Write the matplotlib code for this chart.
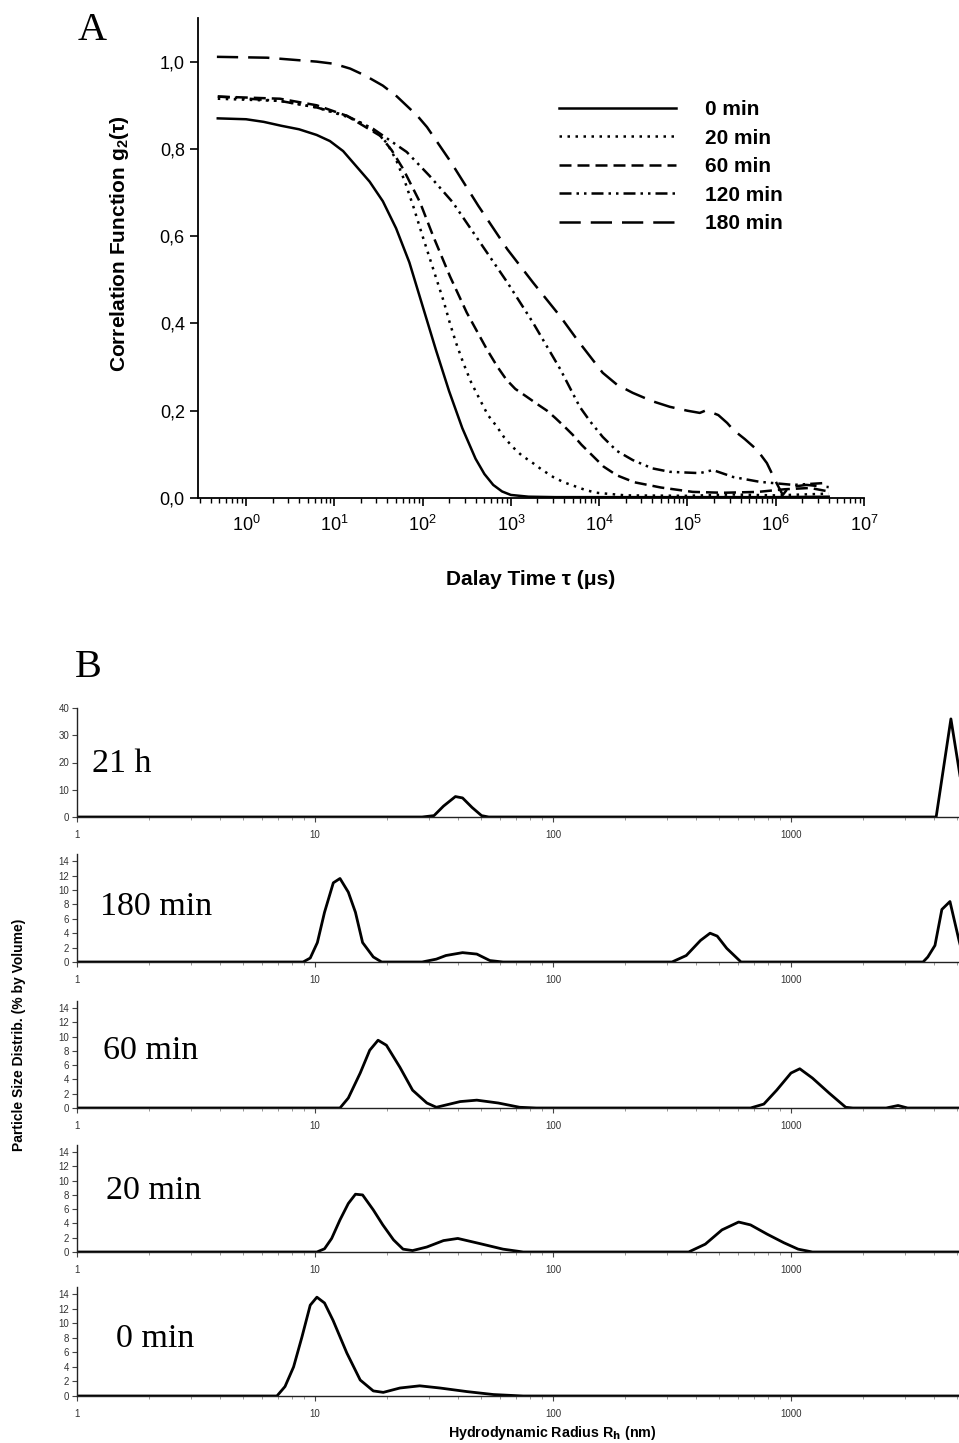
import matplotlib
matplotlib.use("Agg")
import matplotlib.pyplot as plt
import matplotlib.ticker as mticker
import numpy as np

plt.rcParams['font.family'] = ['Liberation Sans', 'DejaVu Sans']
plt.rcParams['mathtext.default'] = 'regular'

# ---- panel A: correlation functions (log10 of delay time in us, g2) ----
series_a = ["0 min", "20 min", "60 min", "120 min", "180 min"]

logt_0 = [-0.32, 0, 0.2, 0.4, 0.6, 0.8, 0.95, 1.1, 1.25, 1.4, 1.55, 1.7, 1.85, 2.0, 2.15, 2.3, 2.45,
          2.6, 2.7, 2.8, 2.9, 3.0, 3.2, 3.5, 4, 5, 6, 6.6]
g2_0 = [0.870, 0.868, 0.862, 0.853, 0.845, 0.832, 0.818, 0.795, 0.76, 0.725, 0.68, 0.618, 0.54, 0.44,
        0.34, 0.245, 0.16, 0.09, 0.055, 0.03, 0.015, 0.007, 0.003, 0.002, 0.002, 0.002, 0.002, 0.003]

logt_20 = [-0.32, 0.385, 0.8, 1.14, 1.3, 1.4, 1.5, 1.6, 1.7, 1.8, 1.9, 2.0, 2.08, 2.16, 2.24, 2.31,
           2.38, 2.46, 2.55, 2.65, 2.74, 2.84, 2.92, 3.02, 3.12, 3.25, 3.35, 3.48, 3.6, 3.78, 3.85,
           3.97, 4.3, 5.0, 5.5, 6.0, 6.6]
g2_20 = [0.915, 0.91, 0.895, 0.874, 0.86, 0.848, 0.835, 0.812, 0.775, 0.725, 0.665, 0.60, 0.55, 0.50,
         0.45, 0.40, 0.355, 0.31, 0.265, 0.225, 0.19, 0.164, 0.14, 0.117, 0.098, 0.08, 0.065, 0.048,
         0.036, 0.023, 0.018, 0.012, 0.006, 0.005, 0.008, 0.006, 0.01]

logt_60 = [-0.32, 0.385, 0.8, 1.14, 1.52, 1.65, 1.78, 1.97, 2.12, 2.31, 2.5, 2.73, 2.85, 2.95, 3.05,
           3.18, 3.3, 3.41, 3.5, 3.6, 3.7, 3.8, 3.93, 4.05, 4.2, 4.4, 4.7, 5.06, 5.4, 5.8, 6.1, 6.39,
           6.6]
g2_60 = [0.92, 0.915, 0.9, 0.876, 0.83, 0.797, 0.754, 0.678, 0.60, 0.508, 0.425, 0.34, 0.30, 0.271,
         0.25, 0.232, 0.215, 0.2, 0.184, 0.165, 0.145, 0.122, 0.096, 0.072, 0.052, 0.036, 0.024, 0.014,
         0.012, 0.014, 0.02, 0.023, 0.015]

logt_120 = [-0.32, 0.385, 0.8, 1.14, 1.44, 1.82, 2.08, 2.34, 2.65, 2.96, 3.25, 3.56, 3.78, 3.9, 4.04,
            4.2, 4.38, 4.6, 4.8, 5.14, 5.29, 5.52, 5.82, 6.2, 6.53]
g2_120 = [0.92, 0.91, 0.895, 0.876, 0.846, 0.793, 0.738, 0.678, 0.586, 0.494, 0.402, 0.295, 0.209,
          0.175, 0.14, 0.108, 0.087, 0.068, 0.06, 0.057, 0.064, 0.048, 0.037, 0.03, 0.034]

logt_180 = [-0.33, 0.24, 0.8, 1.0, 1.18, 1.35, 1.55, 1.71, 1.94, 2.05, 2.32, 2.63, 2.96, 3.25, 3.56,
            3.75, 4.04, 4.2, 4.38, 4.6, 4.8, 5.0, 5.14, 5.2, 5.25, 5.35, 5.45, 5.52, 5.65, 5.79, 5.9,
            6.01, 6.08, 6.15, 6.35, 6.6]
g2_180 = [1.011, 1.009, 1.0, 0.995, 0.984, 0.968, 0.945, 0.92, 0.876, 0.85, 0.77, 0.67, 0.57, 0.494,
          0.416, 0.363, 0.287, 0.26, 0.241, 0.222, 0.209, 0.2, 0.195, 0.2, 0.198, 0.19, 0.172, 0.156,
          0.135, 0.11, 0.08, 0.034, 0.007, 0.025, 0.03, 0.025]

# ---- panel B: size distributions (log10 of radius in nm, % by volume) ----
labels_b = ["21 h", "180 min", "60 min", "20 min", "0 min"]

logr_21h = [0, 1.45, 1.50, 1.54, 1.59, 1.62, 1.66, 1.70, 1.73, 3.61, 3.672, 3.738]
dist_21h = [0, 0, 0.5, 4, 7.5, 7, 3.5, 0.5, 0, 0, 36, 0]

logr_180 = [0, 0.95, 0.98, 1.01, 1.04, 1.077, 1.105, 1.14, 1.17, 1.2, 1.245, 1.28, 1.45, 1.51, 1.55,
            1.62, 1.68, 1.735, 1.79, 2.5, 2.56, 2.62, 2.66, 2.69, 2.73, 2.79, 3.555, 3.575, 3.605,
            3.634, 3.668, 3.706, 3.73]
dist_180 = [0, 0, 0.55, 2.7, 6.9, 11.0, 11.6, 9.7, 6.9, 2.7, 0.7, 0, 0, 0.4, 0.9, 1.3, 1.1, 0.2, 0, 0,
            0.9, 3.0, 4.0, 3.6, 1.9, 0, 0, 0.7, 2.3, 7.3, 8.4, 3.0, 0]

logr_60 = [0, 1.105, 1.14, 1.19, 1.23, 1.265, 1.30, 1.357, 1.41, 1.47, 1.51, 1.61, 1.68, 1.77, 1.86,
           1.93, 2.83, 2.886, 2.94, 3.0, 3.037, 3.09, 3.16, 3.23, 3.26, 3.40, 3.45, 3.49, 3.71]
dist_60 = [0, 0, 1.4, 4.9, 8.1, 9.5, 8.8, 5.7, 2.5, 0.7, 0.1, 0.9, 1.1, 0.7, 0.1, 0, 0, 0.55, 2.5,
           4.9, 5.5, 4.2, 2.1, 0.1, 0, 0, 0.35, 0, 0]

logr_20 = [0, 1.008, 1.04, 1.07, 1.105, 1.14, 1.17, 1.20, 1.245, 1.285, 1.33, 1.37, 1.41, 1.47, 1.54,
           1.60, 1.69, 1.79, 1.875, 2.57, 2.64, 2.71, 2.78, 2.83, 2.90, 2.97, 3.03, 3.09, 3.71]
dist_20 = [0, 0, 0.45, 1.9, 4.5, 6.8, 8.1, 8.0, 5.9, 3.8, 1.7, 0.4, 0.2, 0.7, 1.6, 1.9, 1.2, 0.4, 0,
           0, 1.1, 3.1, 4.2, 3.8, 2.5, 1.3, 0.4, 0, 0]

logr_0 = [0, 0.84, 0.874, 0.91, 0.945, 0.98, 1.008, 1.04, 1.076, 1.134, 1.19, 1.245, 1.287, 1.357,
          1.44, 1.525, 1.64, 1.75, 1.875, 3.71]
dist_0 = [0, 0, 1.3, 4.0, 8.1, 12.5, 13.6, 12.8, 10.4, 5.9, 2.2, 0.7, 0.5, 1.1, 1.4, 1.1, 0.6, 0.2, 0, 0]

W, H = 959, 1443
fig = plt.figure(figsize=(W / 100, H / 100), dpi=100)


def box(x0, y_top, x1, y_bot):
    return [x0 / W, 1 - y_bot / H, (x1 - x0) / W, (y_bot - y_top) / H]


# ================= panel A =================
ax = fig.add_axes(box(198, 18, 864, 498))
styles = ['-', (0, (1, 2.2)), (0, (4.8, 2.4)), (0, (4.8, 2, 1, 2, 1, 2)), (0, (8.5, 4))]
curves = [(logt_0, g2_0), (logt_20, g2_20), (logt_60, g2_60), (logt_120, g2_120), (logt_180, g2_180)]
for name, ls, (lt, g) in zip(series_a, styles, curves):
    ax.plot(10 ** np.array(lt), g, color='black', lw=1.8, linestyle=ls, label=name)

ax.set_xscale('log')
ax.set_xlim(10 ** -0.544, 1e7)
ax.set_ylim(0, 1.1)
ax.set_yticks([0, 0.2, 0.4, 0.6, 0.8, 1.0])
ax.yaxis.set_major_formatter(mticker.FuncFormatter(lambda v, p: f"{v:.1f}".replace('.', ',')))
ax.xaxis.set_major_locator(mticker.LogLocator(base=10, numticks=20))
ax.xaxis.set_minor_locator(mticker.LogLocator(base=10, subs=np.arange(2, 10), numticks=20))
ax.xaxis.set_minor_formatter(mticker.NullFormatter())
for s in ['top', 'right']:
    ax.spines[s].set_visible(False)
for s in ['left', 'bottom']:
    ax.spines[s].set_linewidth(1.3)
ax.tick_params(axis='both', which='major', labelsize=13, length=6, width=1.2, colors='black')
ax.tick_params(axis='x', which='minor', length=3.5, width=1.0)
ax.tick_params(axis='x', pad=6)

ax.set_ylabel("Correlation Function g$_2$(τ)", fontsize=15, fontweight='bold')
ax.yaxis.set_label_coords(-0.1, 0.53)
ax.set_xlabel("Dalay Time τ (μs)", fontsize=15, fontweight='bold')
ax.xaxis.set_label_coords(0.5, -0.15)

leg = ax.legend(loc='upper left', bbox_to_anchor=((559 - 198) / 666, (498 - 100) / 480),
                frameon=False, borderpad=0, borderaxespad=0, handlelength=5.6,
                handletextpad=1.4, labelspacing=0.46, prop={'weight': 'bold', 'size': 15})

fig.text(78 / W, 1 - 40 / H, "A", family='Liberation Serif', fontsize=29, va='baseline')
fig.text(75 / W, 1 - 677 / H, "B", family='Liberation Serif', fontsize=29, va='baseline')

# ================= panel B =================
panels = [
    (logr_21h, dist_21h, 708, 817, 40, [0, 10, 20, 30, 40], (92, 772)),
    (logr_180, dist_180, 854, 962, 15, list(range(0, 15, 2)), (100, 915)),
    (logr_60, dist_60, 1001, 1108, 15, list(range(0, 15, 2)), (103, 1059)),
    (logr_20, dist_20, 1145, 1252, 15, list(range(0, 15, 2)), (106, 1199)),
    (logr_0, dist_0, 1287, 1396, 15, list(range(0, 15, 2)), (116, 1347)),
]
gray = '#444444'
for lab, (lr, d, top, bot, ymax, yt, (tx, ty)) in zip(labels_b, panels):
    axb = fig.add_axes(box(77, top, 959, bot))
    axb.plot(10 ** np.array(lr), d, color='black', lw=2.0, clip_on=True)
    axb.set_xscale('log')
    axb.set_xlim(1, 10 ** 3.706)
    axb.set_ylim(0, ymax)
    axb.set_yticks(yt)
    axb.xaxis.set_major_locator(mticker.FixedLocator([1, 10, 100, 1000]))
    axb.xaxis.set_major_formatter(mticker.FuncFormatter(lambda v, p: f"{v:g}"))
    axb.xaxis.set_minor_locator(mticker.LogLocator(base=10, subs=np.arange(2, 10), numticks=20))
    axb.xaxis.set_minor_formatter(mticker.NullFormatter())
    for s in ['top', 'right']:
        axb.spines[s].set_visible(False)
    for s in ['left', 'bottom']:
        axb.spines[s].set_linewidth(1.0)
        axb.spines[s].set_color('#222222')
    axb.tick_params(axis='both', which='major', labelsize=7, length=3.5, width=0.8,
                    colors=gray, labelcolor='#333333', pad=2)
    axb.tick_params(axis='x', which='minor', length=2.5, width=0.6, colors='#888888')
    axb.tick_params(axis='x', which='major', pad=6)
    fig.text(tx / W, 1 - ty / H, lab, family='Liberation Serif', fontsize=24.5, va='baseline')

fig.text(19 / W, 1 - 1035 / H, "Particle Size Distrib. (% by Volume)", rotation=90,
         ha='center', va='center', fontsize=10, fontweight='bold')
fig.text(552 / W, 1 - 1433 / H, "Hydrodynamic Radius R$_\\mathbf{h}$ (nm)", ha='center', va='center',
         fontsize=10.3, fontweight='bold')

fig.savefig("out.png", dpi=100)
